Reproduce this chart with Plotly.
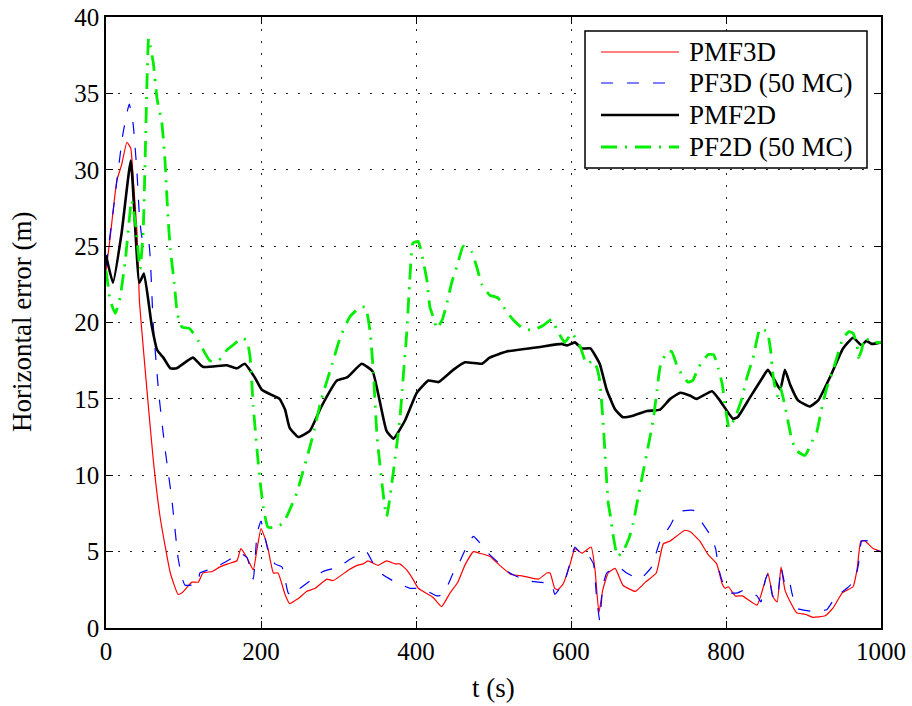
import plotly.graph_objects as go

# ---- data: horizontal position error over time ----
t_pmf3d = [0, 5, 14, 20, 27, 32, 35, 40, 43, 48, 54, 61, 70, 83, 93, 98, 111, 119, 125, 137,
           147, 157, 169, 174, 182, 190, 195, 200, 205, 209, 216, 222, 231, 237, 244, 250, 259, 270, 285, 293,
           313, 324, 332, 338, 351, 362, 373, 379, 388, 396, 403, 422, 433, 444, 454, 463, 474, 482, 495, 508,
           523, 538, 558, 569, 573, 579, 583, 590, 599, 605, 614, 626, 631, 636, 641, 648, 657, 667, 683, 696,
           710, 719, 728, 747, 754, 766, 777, 788, 795, 799, 803, 812, 821, 840, 846, 854, 861, 866, 871, 876,
           883, 891, 902, 912, 928, 938, 950, 957, 964, 969, 974, 979, 990, 1000]
e_pmf3d = [23.4, 25.4, 29.3, 30.3, 31.8, 31.4, 29.5, 25.9, 21.5, 18.4, 14.9, 11.0, 7.2, 3.6, 2.2, 2.3, 3.0, 3.0, 3.6, 3.7,
           4.0, 4.2, 4.4, 5.2, 4.6, 3.8, 5.2, 6.5, 5.9, 5.2, 3.6, 3.6, 2.2, 1.6, 1.8, 2.0, 2.4, 2.6, 3.2, 3.1,
           3.8, 4.1, 4.2, 4.4, 4.1, 4.4, 4.2, 4.2, 3.8, 3.2, 2.6, 2.0, 1.4, 2.3, 3.0, 4.1, 5.0, 4.9, 4.7, 4.1,
           3.5, 3.4, 3.2, 3.6, 3.6, 2.6, 2.5, 2.9, 4.2, 5.2, 4.9, 5.3, 3.8, 1.0, 2.5, 3.6, 3.9, 2.8, 2.4, 3.0,
           3.6, 5.5, 5.7, 6.4, 6.3, 5.7, 4.8, 4.2, 2.9, 2.6, 2.7, 2.1, 2.1, 1.5, 2.3, 3.6, 2.0, 1.7, 4.0, 2.5,
           1.7, 1.0, 0.9, 0.7, 0.8, 1.3, 2.3, 2.5, 2.7, 3.8, 5.7, 5.7, 5.2, 5.0]

t_pf3d = [0, 9, 22, 30, 35, 40, 43, 47, 54, 57, 61, 68, 76, 85, 93, 98, 102, 119, 121, 138,
          157, 173, 182, 190, 195, 200, 209, 218, 227, 235, 240, 248, 266, 280, 300, 315, 336, 344, 357, 370,
          392, 407, 427, 435, 448, 457, 466, 474, 482, 493, 508, 521, 543, 558, 575, 579, 592, 599, 605, 614,
          620, 629, 633, 637, 641, 646, 661, 672, 689, 704, 715, 728, 738, 758, 769, 782, 787, 790, 795, 805,
          815, 824, 840, 845, 851, 855, 860, 866, 871, 876, 881, 885, 891, 910, 930, 941, 956, 966, 971, 975,
          983, 990, 1000]
e_pf3d = [23.7, 27.2, 32.4, 34.3, 33.0, 29.8, 27.1, 25.5, 25.6, 24.3, 19.8, 15.4, 11.8, 8.4, 4.6, 3.3, 2.8, 2.9, 3.6, 3.9,
          4.4, 4.9, 4.6, 3.2, 6.2, 7.0, 5.1, 4.2, 4.0, 2.3, 2.1, 2.5, 3.2, 3.7, 4.0, 4.5, 5.0, 4.3, 3.5, 3.1,
          2.6, 2.6, 2.1, 2.2, 3.6, 4.4, 5.4, 6.0, 5.6, 4.9, 4.2, 3.6, 3.1, 3.0, 2.9, 2.2, 3.1, 4.3, 5.3, 4.8,
          4.9, 4.2, 2.0, 0.5, 2.7, 3.6, 4.0, 3.6, 3.2, 4.0, 5.7, 6.7, 7.6, 7.7, 6.9, 5.9, 5.1, 4.0, 3.1, 2.3,
          2.3, 2.5, 2.1, 1.7, 3.2, 3.6, 2.1, 1.9, 4.0, 2.9, 3.2, 2.3, 1.3, 1.1, 1.2, 2.0, 2.6, 3.1, 4.2, 5.7,
          5.7, 5.1, 5.0]

t_pmf2d = [0, 9, 20, 32, 43, 49, 59, 66, 74, 83, 91, 112, 125, 156, 169, 179, 192, 201, 212, 224,
           231, 237, 248, 263, 278, 298, 311, 330, 344, 353, 362, 371, 386, 401, 416, 429, 448, 463, 485, 495,
           517, 560, 588, 595, 605, 614, 625, 637, 646, 657, 667, 680, 698, 715, 728, 741, 754, 762, 782, 792,
           809, 815, 831, 846, 854, 863, 870, 876, 883, 893, 908, 919, 934, 951, 964, 975, 981, 988, 1000]
e_pmf2d = [24.4, 22.6, 25.8, 30.6, 22.6, 23.2, 19.8, 18.2, 17.7, 17.0, 17.0, 17.7, 17.1, 17.2, 17.0, 17.3, 16.4, 15.6, 15.3, 15.0,
           14.3, 13.1, 12.5, 12.9, 14.5, 16.2, 16.4, 17.3, 16.8, 14.9, 12.9, 12.4, 13.6, 15.4, 16.2, 16.1, 16.9, 17.4, 17.3, 17.7,
           18.1, 18.4, 18.6, 18.5, 18.7, 18.3, 18.3, 17.3, 15.6, 14.3, 13.8, 13.9, 14.2, 14.3, 15.0, 15.4, 15.2, 15.0, 15.5, 14.9,
           13.7, 13.8, 15.1, 16.3, 16.9, 16.2, 15.6, 16.9, 15.9, 14.9, 14.5, 14.9, 16.4, 18.3, 19.0, 18.5, 18.8, 18.6, 18.7]

t_pf2d = [0, 3, 5, 12, 18, 25, 33, 38, 44, 48, 53, 55, 61, 66, 72, 76, 80, 83, 88, 92,
          98, 108, 119, 134, 145, 156, 166, 175, 182, 186, 190, 195, 199, 203, 209, 220, 229, 235, 246, 250,
          266, 278, 292, 302, 315, 328, 335, 341, 345, 348, 350, 362, 379, 383, 388, 392, 396, 403, 409, 414,
          418, 422, 427, 434, 440, 446, 453, 461, 472, 478, 485, 495, 506, 517, 525, 538, 551, 564, 575, 583,
          592, 601, 612, 620, 629, 633, 637, 641, 648, 651, 654, 660, 667, 675, 680, 686, 706, 711, 715, 724,
          730, 738, 751, 757, 765, 777, 784, 790, 795, 799, 804, 812, 821, 827, 835, 844, 853, 857, 861, 866,
          870, 879, 885, 891, 902, 912, 917, 924, 930, 937, 943, 951, 959, 964, 969, 971, 975, 979, 988, 1000]
e_pf2d = [23.4, 22.3, 21.5, 20.6, 21.6, 24.1, 28.0, 26.5, 23.5, 26.0, 36.0, 38.6, 37.0, 34.6, 33.1, 30.7, 26.9, 24.8, 22.6, 20.6,
          19.7, 19.6, 18.8, 17.5, 17.5, 18.2, 18.6, 19.0, 18.8, 17.7, 14.5, 11.6, 9.5, 7.9, 6.6, 6.6, 6.9, 7.5, 8.8, 9.5,
          12.4, 15.0, 17.3, 19.0, 20.4, 21.0, 21.0, 19.3, 16.7, 14.0, 12.4, 7.3, 13.6, 16.1, 19.3, 22.8, 25.2, 25.3, 24.1, 22.8,
          21.0, 20.4, 19.6, 20.2, 21.3, 22.6, 23.7, 25.0, 24.6, 23.7, 22.5, 21.8, 21.6, 20.7, 20.2, 19.6, 19.5, 19.8, 20.2, 19.4,
          18.7, 19.3, 18.4, 17.3, 17.5, 17.1, 16.2, 13.8, 8.2, 7.3, 6.2, 4.7, 5.0, 5.9, 6.8, 8.4, 13.6, 15.6, 17.1, 18.1,
          18.1, 17.0, 16.1, 16.2, 17.1, 17.9, 17.9, 17.0, 16.0, 14.5, 13.1, 13.8, 15.1, 16.4, 17.7, 19.6, 19.4, 18.4, 16.4, 15.2,
          15.8, 13.8, 12.3, 11.6, 11.3, 12.3, 12.8, 14.5, 15.7, 16.7, 17.7, 19.0, 19.4, 19.3, 18.5, 17.7, 18.2, 19.0, 18.7, 18.7]

series_names = ["PMF3D", "PF3D (50 MC)", "PMF2D", "PF2D (50 MC)"]
x_ticks = [0, 200, 400, 600, 800, 1000]
y_ticks = [0, 5, 10, 15, 20, 25, 30, 35, 40]

# ---- styling ----
FONT = "Liberation Serif, Times New Roman, serif"
FS = 25
FS_TXT = 27
styles = [
    dict(color="#ff0000", width=1.2, dash="solid"),
    dict(color="#0000ff", width=1.2, dash="12px,14px"),
    dict(color="#000000", width=2.6, dash="solid"),
    dict(color="#00ee00", width=2.8, dash="16px,8px,2px,8px"),
]

fig = go.Figure()
for (tx, ey), name, st in zip(
    [(t_pmf3d, e_pmf3d), (t_pf3d, e_pf3d), (t_pmf2d, e_pmf2d), (t_pf2d, e_pf2d)],
    series_names, styles,
):
    fig.add_trace(go.Scatter(x=tx, y=ey, mode="lines", name=name, line=st,
                             line_shape="spline", line_smoothing=0.4, showlegend=False))

W, H = 912, 706
L, R, T, B = 106, 31, 17, 78
PW, PH = W - L - R, H - T - B


def px_x(p):
    return (p - L) / PW


def px_y(p):
    return (H - B - p) / PH


# legend box drawn in paper coordinates
box = dict(x0=585, x1=867, y0=31, y1=168)
fig.add_shape(type="rect", xref="paper", yref="paper",
              x0=px_x(box["x0"]), x1=px_x(box["x1"]),
              y0=px_y(box["y1"]), y1=px_y(box["y0"]),
              line=dict(color="black", width=1.5), fillcolor="white", layer="above")
rows = [52, 83, 115, 147]
for name, st, ry in zip(series_names, styles, rows):
    fig.add_shape(type="line", xref="paper", yref="paper",
                  x0=px_x(601), x1=px_x(679), y0=px_y(ry), y1=px_y(ry),
                  line=dict(color=st["color"], width=st["width"], dash=st["dash"]), layer="above")
    fig.add_annotation(xref="paper", yref="paper", x=px_x(687), y=px_y(ry),
                       text=name, showarrow=False, xanchor="left", yanchor="middle",
                       font=dict(family=FONT, size=FS_TXT, color="black"))

# axis titles
fig.add_annotation(xref="paper", yref="paper", x=px_x(493), y=px_y(688),
                   text="t (s)", showarrow=False, xanchor="center", yanchor="middle",
                   font=dict(family=FONT, size=FS_TXT, color="black"))
fig.add_annotation(xref="paper", yref="paper", x=px_x(22), y=px_y(322),
                   text="Horizontal error (m)", showarrow=False, textangle=-90,
                   xanchor="center", yanchor="middle",
                   font=dict(family=FONT, size=FS_TXT, color="black"))

axis_common = dict(
    showline=True, linecolor="black", linewidth=1.5, mirror="ticks",
    ticks="inside", ticklen=7, tickwidth=1, tickcolor="black",
    showgrid=True, gridcolor="rgba(0,0,0,0.85)", gridwidth=1, griddash="2px,10px",
    zeroline=False, automargin=False,
    tickfont=dict(family=FONT, size=FS, color="black"),
)

fig.update_xaxes(range=[0, 1000], tickvals=x_ticks, ticktext=[str(v) for v in x_ticks],
                 **axis_common)
fig.update_yaxes(range=[0, 40], tickvals=y_ticks, ticktext=[str(v) for v in y_ticks],
                 **axis_common)

fig.update_layout(
    width=W, height=H,
    margin=dict(l=L, r=R, t=T, b=B),
    paper_bgcolor="white", plot_bgcolor="white",
    font=dict(family=FONT, size=FS, color="black"),
    showlegend=False,
)

fig.write_html("out.html")
